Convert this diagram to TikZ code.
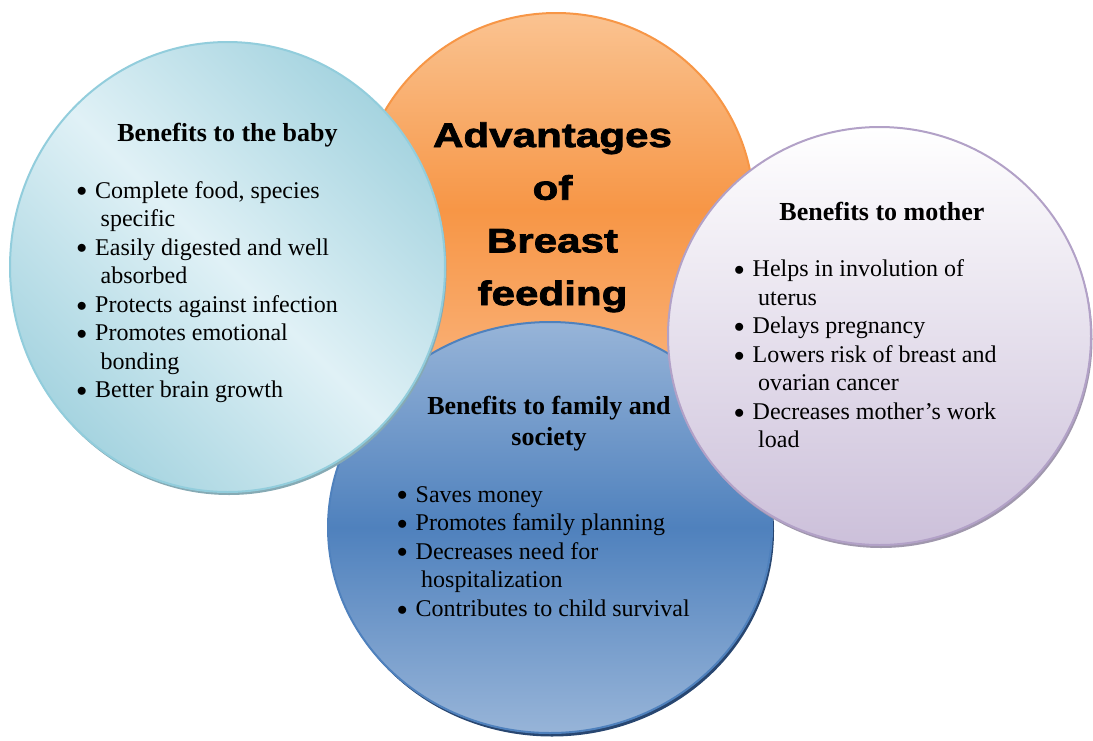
\documentclass[tikz,border=0pt]{standalone}
\usepackage{fontspec}
\setmainfont{Liberation Serif}
\newfontfamily\headfont[FakeStretch=1.24,FakeBold=2.2]{Liberation Sans}
\usetikzlibrary{positioning}

\definecolor{orangeedge}{HTML}{F79646}
\definecolor{orangemid}{HTML}{F79646}
\definecolor{orangetop}{HTML}{FAC391}
\definecolor{orangebot}{HTML}{FAB681}
\definecolor{babyedge}{HTML}{92CDDC}
\definecolor{babydark}{HTML}{A6D4E0}
\definecolor{babylight}{HTML}{E0F1F6}
\definecolor{babyshadow}{HTML}{86AAB4}
\definecolor{famedge}{HTML}{4F81BD}
\definecolor{famlight}{HTML}{97B4D8}
\definecolor{fammid}{HTML}{4F81BD}
\definecolor{famshadow}{HTML}{284670}
\definecolor{momedge}{HTML}{B2A1C7}
\definecolor{mombot}{HTML}{CCC0DA}
\definecolor{momshadow}{HTML}{A097AD}

\newcommand{\pt}[1]{\makebox[18.5pt][l]{\raisebox{1.2pt}{\fontsize{21}{21}\selectfont$\bullet$}}#1}
\newcommand{\cont}[1]{\hspace*{24pt}#1}

\begin{document}
\begin{tikzpicture}[x=1pt,y=-1pt,
    rim/.style={line width=2pt},
    heading/.style={anchor=base,inner sep=0pt,font=\fontsize{26}{31}\selectfont\bfseries},
    points/.style={anchor=base west,inner sep=0pt,font=\fontsize{24}{28.57}\selectfont},
    bigtitle/.style={anchor=base,inner sep=0pt,font=\headfont\bfseries\fontsize{34}{52.7}\selectfont}]

      \useasboundingbox (0,0) rectangle (1093,740);

      \coordinate (advc) at (556,210);
      \coordinate (babyc) at (227.5,267);
      \coordinate (famc) at (550,527.5);
      \coordinate (momc) at (879.5,336);

      % circles, back to front
      \shade[rim,draw=orangeedge,top color=orangetop,bottom color=orangebot,middle color=orangemid]
        (advc) ellipse [x radius=198pt,y radius=197pt];
      \fill[famshadow] ([shift={(2,3.5)}]famc) ellipse [x radius=222pt,y radius=205.5pt];
      \shade[rim,draw=famedge,top color=famlight,bottom color=famlight,middle color=fammid]
        (famc) ellipse [x radius=222pt,y radius=205.5pt];
      \fill[babyshadow] ([shift={(1.5,3)}]babyc) ellipse [x radius=217.5pt,y radius=225pt];
      \shade[rim,draw=babyedge,top color=babydark,bottom color=babydark,middle color=babylight,shading angle=-45]
        (babyc) ellipse [x radius=217.5pt,y radius=225pt];
      \fill[momshadow] ([shift={(1.5,3)}]momc) ellipse [x radius=211.5pt,y radius=209pt];
      \shade[rim,draw=momedge,top color=white,bottom color=mombot]
        (momc) ellipse [x radius=211.5pt,y radius=209pt];

      \node[bigtitle] (adv) at (552.5,147) {\begin{tabular}[t]{@{}c@{}}Advantages\\ of\\ Breast\\ feeding\end{tabular}};

      \node[heading] (babyhead) at (227.5,141.7) {Benefits to the baby};
      \node[points] (babylist) at (76.5,198) {\begin{tabular}[t]{@{}l@{}}
        \pt{Complete food, species}\\ \cont{specific}\\
        \pt{Easily digested and well}\\ \cont{absorbed}\\
        \pt{Protects against infection}\\
        \pt{Promotes emotional}\\ \cont{bonding}\\
        \pt{Better brain growth}\end{tabular}};

      \node[heading] (famhead) at (549,414) {\begin{tabular}[t]{@{}c@{}}Benefits to family and\\ society\end{tabular}};
      \node[points] (famlist) at (397,502) {\begin{tabular}[t]{@{}l@{}}
        \pt{Saves money}\\
        \pt{Promotes family planning}\\
        \pt{Decreases need for}\\ \cont{hospitalization}\\
        \pt{Contributes to child survival}\end{tabular}};

      \node[heading] (momhead) at (882,220.5) {Benefits to mother};
      \node[points] (momlist) at (734,276.5) {\begin{tabular}[t]{@{}l@{}}
        \pt{Helps in involution of}\\ \cont{uterus}\\
        \pt{Delays pregnancy}\\
        \pt{Lowers risk of breast and}\\ \cont{ovarian cancer}\\
        \pt{Decreases mother’s work}\\ \cont{load}\end{tabular}};
\end{tikzpicture}
\end{document}
